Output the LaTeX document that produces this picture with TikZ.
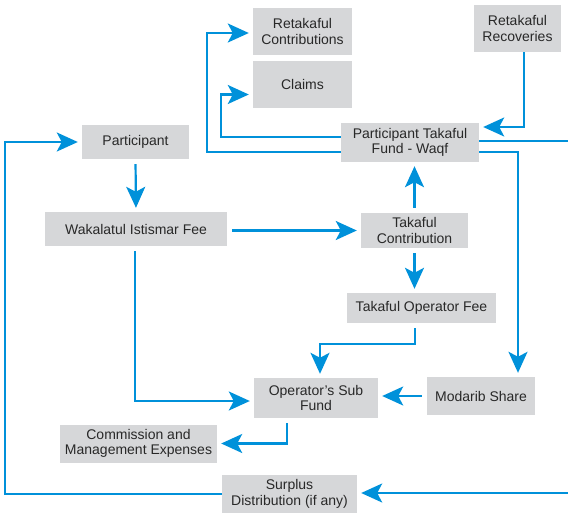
\documentclass[tikz,border=0pt]{standalone}
\usepackage{fontspec}
\setmainfont{Liberation Sans}
\usepackage{xcolor}
\usetikzlibrary{arrows.meta, positioning, calc}
\definecolor{flowblue}{RGB}{0,145,218}
\definecolor{boxgray}{RGB}{214,215,217}
\definecolor{textgray}{RGB}{40,40,40}
\tikzset{%
  box/.style={fill=boxgray, text=textgray, inner sep=0pt, align=center,
    font=\fontsize{14}{15.5}\selectfont},
  flow/.style={draw=flowblue, line width=2.2pt, miter limit=4,
    -{Stealth[length=21pt, width=19pt, inset=5pt]},
    shorten >=4pt, shorten <=5pt},
  link/.style={flow, shorten <=0pt}
}

\begin{document}
\begin{tikzpicture}[x=1pt, y=-1pt]
  \useasboundingbox (0,0) rectangle (568,515);

  \node[box, minimum width=99pt, minimum height=47pt] (rcontrib) at (302.5,31.5) {Retakaful\\Contributions};
  \node[box, minimum width=99pt, minimum height=47pt] (claims) at (302.5,84.5) {Claims};
  \node[box, minimum width=87pt, minimum height=47pt] (rrecov) at (517.5,28.5) {Retakaful\\Recoveries};
  \node[box, minimum width=138pt, minimum height=39pt] (ptf) at (410,142.5) {Participant Takaful\\Fund - Waqf};

  \node[box, minimum width=107pt, minimum height=34pt] (part) at (135.5,142) {Participant};
  \node[box, minimum width=182pt, minimum height=34pt] (wakala) at (136,229) {Wakalatul Istismar Fee};
  \node[box, minimum width=107pt, minimum height=35pt] (tcontrib) at (414.5,230.5) {Takaful\\Contribution};
  \node[box, minimum width=149pt, minimum height=30pt] (tofee) at (421.5,308) {Takaful Operator Fee};

  \node[box, minimum width=124pt, minimum height=40pt] (osf) at (316,398) {Operator’s Sub\\Fund};
  \node[box, minimum width=108pt, minimum height=38pt] (modarib) at (481,396) {Modarib Share};
  \node[box, minimum width=157pt, minimum height=38pt] (comm) at (138.5,443.5) {Commission and\\Management Expenses};
  \node[box, minimum width=135pt, minimum height=38pt] (surplus) at (289.5,494) {Surplus\\Distribution (if any)};

  % participant takaful fund outflows
  \draw[link] ([yshift=-9.5pt]ptf.west) -| (207,100) |- ([yshift=-1.5pt]rcontrib.west);
  \draw[link] ([yshift=5.5pt]ptf.west) -| (221,110) |- ([yshift=-10pt]claims.west);
  \draw[link] ([xshift=6.5pt]rrecov.south) |- ([yshift=15.5pt]ptf.east);
  \draw[link] ([yshift=1.5pt]ptf.east) -- (575,141) |- ([yshift=1pt]surplus.east);
  \draw[link] ([yshift=-9.5pt]ptf.east) -| ([xshift=37pt]modarib.north);

  % participant side
  \draw[flow] (part.south) -- (wakala.north);
  \draw[flow] (wakala.east |- tcontrib.west) -- (tcontrib.west);
  \draw[flow] (tcontrib.north) -- (tcontrib.north |- ptf.south);
  \draw[flow] (tcontrib.south) -- (tcontrib.south |- tofee.north);
  \draw[flow] ([xshift=-6.5pt]tofee.south) |- (320,344) -| ([xshift=4pt]osf.north);
  \draw[flow] ([xshift=-1pt]wakala.south) |- ([yshift=-3pt]osf.west);
  \draw[flow] (modarib.west) -- (modarib.west -| osf.east);
  \draw[flow] ([xshift=-29pt]osf.south) |- (comm.east);
  \draw[flow, shorten <=0pt] (surplus.west) -| (5,300) |- (part.west);
\end{tikzpicture}
\end{document}
